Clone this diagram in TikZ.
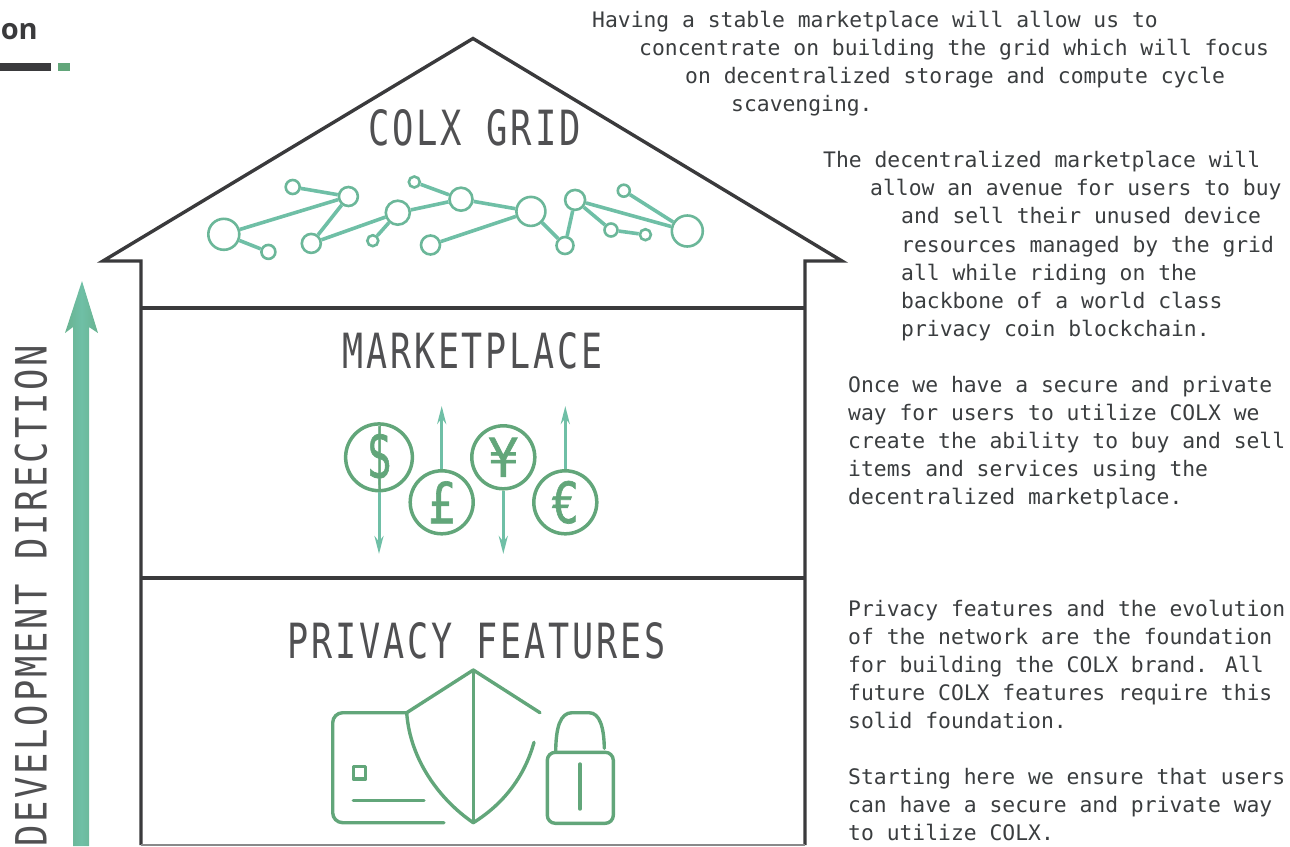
\documentclass[tikz,border=0pt]{standalone}
\usepackage{fontspec}
\usepackage{graphicx}
\setmainfont{Open Sans}
\newfontfamily\monof{DejaVu Sans Mono}
\newfontfamily\headf[LetterSpace=8]{DejaVu Sans Mono}
\newfontfamily\coinf[FakeBold=1.2]{DejaVu Sans Mono}
\definecolor{ink}{HTML}{3A3A3C}
\definecolor{txt}{HTML}{3A3D3F}
\definecolor{gd}{HTML}{62A67A}
\definecolor{gl}{HTML}{6FBFA6}
\definecolor{headc}{HTML}{505052}
\usetikzlibrary{arrows.meta}
\tikzset{
  wall/.style={draw=ink,line width=3.4pt,line join=miter},
  para/.style={anchor=base west,inner sep=0pt,text=txt,font=\monof\fontsize{21.35}{28}\selectfont},
  head/.style={inner sep=0pt,text=headc},
  net/.style={circle,draw=gl!70!gd,line width=2.6pt,inner sep=0pt,fill=white},
  link/.style={draw=gl,line width=3.6pt},
  coin/.style={circle,draw=gd,line width=3.5pt,minimum size=63pt,inner sep=0pt,text=gd},
  flow/.style={draw=gl,line width=3pt,-{Stealth[length=18pt,width=9pt]}},
  icon/.style={draw=gd,line width=3.4pt,line cap=round,line join=round},
}
\newcommand{\fitted}[3]{\resizebox{#1pt}{#2pt}{\headf #3}}
\begin{document}
\begin{tikzpicture}[x=1pt,y=-1pt]
\useasboundingbox (0,0) rectangle (1290,846);
% heading fragment
\node[anchor=base east,inner sep=0pt,text=ink,font=\bfseries\fontsize{29}{30}\selectfont] (title) at (38,39) {on};
\fill[ink] (0,63) rectangle (51,71);
\fill[gd] (58,63) rectangle (70,71);
% house
\coordinate (apex) at (473,38.5);
\coordinate (el) at (103,261);
\coordinate (er) at (842,261);
\coordinate (wl) at (141,261);
\coordinate (wr) at (805,261);
\coordinate (bl) at (141,845);
\coordinate (br) at (805,845);
\draw[wall] (bl) -- (wl) -- (el) -- (apex) -- (er) -- (wr) -- (br);
\draw[wall] (141,308) -- (805,308);
\draw[wall] (141,578) -- (805,578);
\draw[draw=ink!60,line width=2pt] (bl) -- (br);
% headings
\node[head] (h1) at (474.5,127.5) {\fitted{212.4}{36}{COLX GRID}};
\node[head] (h2) at (472.5,351) {\fitted{259.6}{36}{MARKETPLACE}};
\node[head] (h3) at (476.5,641) {\fitted{377.6}{36}{PRIVACY FEATURES}};
\node[head,rotate=90] (h4) at (31,596) {\fitted{501.9}{32}{DEVELOPMENT DIRECTION}};
% development arrow
\shade[left color=gd!50!gl,right color=gd!50!gl,middle color=gl]
  (82,281) -- (98,333) -- (89,327) -- (89,846) -- (73,846) -- (73,327) -- (65,333) -- cycle;
% network
\foreach \n/\x/\y/\d in {A/223.8/234.3/31,B/268.4/251.9/14,C/292.7/187/14,D/348.4/196.5/19,E/311.3/243.4/19,F/372.8/240.7/11,G/397.8/212.7/24,H/414.3/182/11,I/461/199.2/23,J/430.5/245/19,K/530.9/211.4/29,L/565/245.5/17,M/575.1/199.9/20,N/611/230/13,O/645.4/234.7/11,P/623.8/190.7/12,Q/687.3/231/31}
  \node[net,minimum size=\d pt] (\n) at (\x,\y) {};
\foreach \a/\b in {A/D,A/B,C/D,D/E,E/G,F/G,G/I,H/I,I/K,J/K,K/L,L/M,M/N,N/O,M/Q,P/Q}
  \draw[link] (\a) -- (\b);
% coins
\node[coin] (usd) at (379,457.3) {\resizebox{25pt}{52pt}{\coinf\$}};
\node[coin] (gbp) at (441.7,502.3) {\resizebox{27pt}{42pt}{\coinf£}};
\node[coin] (jpy) at (503.3,457.3) {\resizebox{30pt}{39pt}{\coinf¥}};
\node[coin] (eur) at (565.3,502.3) {\resizebox{28pt}{42pt}{\coinf€}};
\coordinate (usdE) at (379,554);
\coordinate (gbpE) at (441.7,406);
\coordinate (jpyE) at (503.3,554);
\coordinate (eurE) at (565.3,406);
\draw[flow] (usd) -- (usdE);
\draw[flow] (gbp) -- (gbpE);
\draw[flow] (jpy) -- (jpyE);
\draw[flow] (eur) -- (eurE);
% card
\draw[icon,rounded corners=10pt] (406,712.7) -- (332.7,712.7) -- (332.7,822.7) -- (444,822.7);
\draw[icon,line cap=butt] (353.3,766.7) rectangle (365.7,779);
\draw[icon] (353.3,800.3) -- (424,800.3);
% shield
\draw[icon] (406.7,712.7) -- (473.3,670) -- (540,712.7);
\draw[icon] (473.3,670) -- (473.3,822.7);
\draw[icon] (406.7,712.7) .. controls (410,760) and (440,800) .. (473.3,822.7);
\draw[icon] (534,742.3) .. controls (525,775) and (505,803) .. (473.3,822.7);
% lock
\draw[icon,rounded corners=8pt] (547.3,752.3) rectangle (613.3,823.3);
\draw[icon] (555.7,750.7) .. controls (556,728) and (560,712.7) .. (572,712.7) -- (589,712.7) .. controls (600,712.7) and (604,728) .. (604.3,748.3);
\draw[icon] (580,764) -- (580,809);
% paragraphs
\node[para] (a1) at (592,27.5) {Having a stable marketplace will allow us to};
\node[para] (a2) at (639,55.5) {concentrate on building the grid which will focus};
\node[para] (a3) at (685,83.5) {on decentralized storage and compute cycle};
\node[para] (a4) at (731,111.5) {scavenging.};
\node[para] (b1) at (823,167.5) {The decentralized marketplace will};
\node[para] (b2) at (870,195.5) {allow an avenue for users to buy};
\node[para] (b3) at (901,223.5) {and sell their unused device};
\node[para] (b4) at (901,252.5) {resources managed by the grid};
\node[para] (b5) at (901,280.5) {all while riding on the};
\node[para] (b6) at (901,308.5) {backbone of a world class};
\node[para] (b7) at (901,336.5) {privacy coin blockchain.};
\node[para] (c1) at (848,392.5) {Once we have a secure and private};
\node[para] (c2) at (848,420.5) {way for users to utilize COLX we};
\node[para] (c3) at (848,448.5) {create the ability to buy and sell};
\node[para] (c4) at (848,476.5) {items and services using the};
\node[para] (c5) at (848,504.5) {decentralized marketplace.};
\node[para] (d1) at (848,616.5) {Privacy features and the evolution};
\node[para] (d2) at (848,644.5) {of the network are the foundation};
\node[para] (d3) at (848,672.5) {for building the COLX brand. All};
\node[para] (d4) at (848,700.5) {future COLX features require this};
\node[para] (d5) at (848,728.5) {solid foundation.};
\node[para] (e1) at (848,784.5) {Starting here we ensure that users};
\node[para] (e2) at (848,812.5) {can have a secure and private way};
\node[para] (e3) at (848,840.5) {to utilize COLX.};
\end{tikzpicture}
\end{document}
